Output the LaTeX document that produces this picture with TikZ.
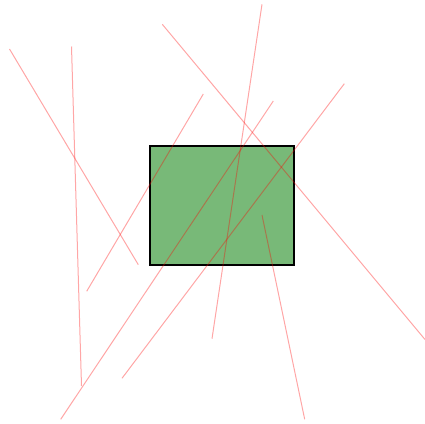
\documentclass[tikz,border=0pt]{standalone}
\definecolor{boxgreen}{RGB}{120,185,120}
\tikzset{
  box/.style={draw=black, line width=1.5pt, fill=boxgreen, inner sep=0pt, anchor=north west},
  seg/.style={draw=red, opacity=0.35, line width=1pt}
}
\begin{document}
\begin{tikzpicture}[x=1pt,y=-1pt]
\useasboundingbox (0,0) rectangle (425,423);
\node[box, minimum width=144pt, minimum height=119pt] (rect) at (149,145) {};
\coordinate (a1) at (9.5,49); \coordinate (a2) at (138.3,264.7);
\coordinate (b1) at (71.5,46.5); \coordinate (b2) at (81.5,386);
\coordinate (c1) at (162.3,24.3); \coordinate (c2) at (425,339.5);
\coordinate (d1) at (262,4.3); \coordinate (d2) at (212,338.7);
\coordinate (e1) at (203.3,94); \coordinate (e2) at (86.7,291.3);
\coordinate (f1) at (273.3,101); \coordinate (f2) at (60.7,419.3);
\coordinate (g1) at (344.3,83.7); \coordinate (g2) at (122,378.3);
\coordinate (h1) at (262,215); \coordinate (h2) at (304.7,419.3);
\draw[seg] (a1) -- (a2);
\draw[seg] (b1) -- (b2);
\draw[seg] (c1) -- (c2);
\draw[seg] (d1) -- (d2);
\draw[seg] (e1) -- (e2);
\draw[seg] (f1) -- (f2);
\draw[seg] (g1) -- (g2);
\draw[seg] (h1) -- (h2);
\end{tikzpicture}
\end{document}
